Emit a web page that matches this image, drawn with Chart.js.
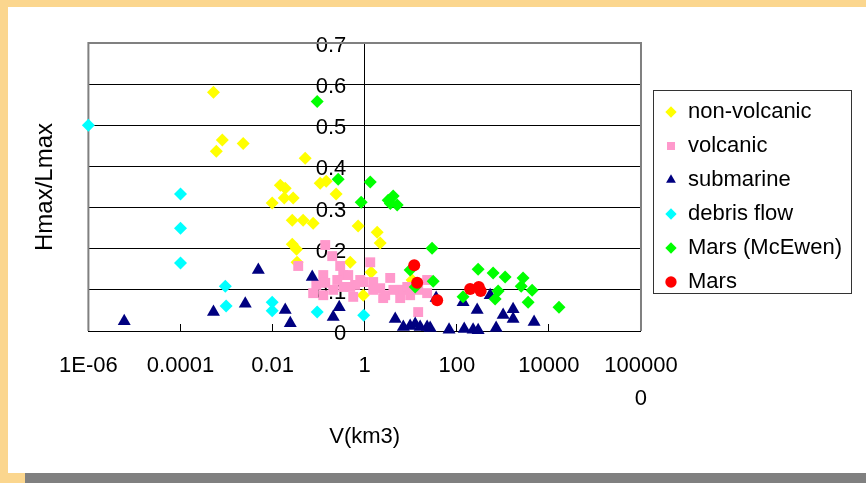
<!DOCTYPE html>
<html>
<head>
<meta charset="utf-8">
<script src="https://cdn.jsdelivr.net/npm/chart.js@4.4.1/dist/chart.umd.min.js"></script>
<style>
  body { margin: 0; width: 866px; height: 483px; overflow: hidden; position: relative; background: #fbd68e; }
  .panel { position: absolute; left: 8px; top: 7px; right: 0; bottom: 10px; background: #fff; }
  .bar { position: absolute; left: 25px; right: 0; bottom: 0; height: 10px; background: #808080; }
  canvas { position: absolute; left: 0; top: 0; }
</style>
</head>
<body>
<div class="panel"></div>
<div class="bar"></div>
<canvas id="myChart" width="866" height="483"></canvas>
<script>
// [V (km3), Hmax/Lmax]
var nonVolcanic = [[5.2e-4, 0.58], [6.0e-4, 0.437], [8.1e-4, 0.464], [2.3e-3, 0.456], [0.051, 0.42],
    [0.0147, 0.354], [0.0188, 0.347], [0.0179, 0.323], [0.028, 0.323], [0.0098, 0.311],
    [0.108, 0.359], [0.146, 0.364], [0.24, 0.333], [0.0267, 0.269], [0.046, 0.269],
    [0.076, 0.262], [0.0267, 0.211], [0.033, 0.199], [0.034, 0.167], [0.72, 0.255],
    [1.87, 0.24], [2.17, 0.214], [0.485, 0.167], [1.38, 0.143], [10.7, 0.124], [0.93, 0.087]];
var volcanic = [[0.036, 0.158], [0.139, 0.209], [0.197, 0.182], [0.126, 0.136], [0.089, 0.112],
    [0.076, 0.092], [0.139, 0.117], [0.207, 0.1], [0.294, 0.158], [0.342, 0.136],
    [0.439, 0.136], [0.342, 0.107], [0.564, 0.083], [0.485, 0.107], [0.8, 0.124],
    [0.93, 0.119], [1.32, 0.167], [1.53, 0.119], [1.53, 0.1], [2.17, 0.104],
    [2.52, 0.08], [2.79, 0.087], [3.58, 0.129], [5.9, 0.1], [5.9, 0.08],
    [6.9, 0.1], [8.4, 0.107], [9.7, 0.087], [14.5, 0.1], [14.5, 0.046],
    [22.7, 0.124], [22.7, 0.092], [0.126, 0.087], [0.254, 0.124], [0.62, 0.112], [4.2, 0.1]];
var submarine = [[6.0e-6, 0.024], [5.2e-4, 0.046], [2.55e-3, 0.066], [4.9e-3, 0.148], [0.0188, 0.051],
    [0.0242, 0.019], [0.0726, 0.131], [0.207, 0.034], [0.28, 0.058], [4.6, 0.029],
    [6.9, 0.01], [9.7, 0.012], [12.5, 0.017], [16, 0.01], [22.7, 0.01],
    [26.4, 0.007], [35.6, 0.08], [68, 0.003], [137, 0.07], [145, 0.005],
    [226, 0.003], [277, 0.051], [291, 0.002], [530, 0.087], [715, 0.007],
    [1015, 0.039], [1670, 0.053], [1670, 0.029], [4770, 0.022]];
var debrisFlow = [[1e-6, 0.5], [1e-4, 0.333], [1e-4, 0.25], [1e-4, 0.165], [9.4e-4, 0.109],
    [9.8e-4, 0.061], [0.0098, 0.07], [0.0098, 0.049], [0.093, 0.046], [0.95, 0.038]];
var marsMcEwen = [[0.093, 0.558], [0.266, 0.369], [1.32, 0.362], [0.84, 0.313], [3.24, 0.318],
    [4.16, 0.328], [5.08, 0.306], [3.6, 0.31], [29, 0.201], [9.7, 0.148],
    [12.5, 0.107], [30.7, 0.121], [137, 0.083], [291, 0.15], [615, 0.141],
    [1120, 0.131], [790, 0.097], [680, 0.078], [2750, 0.129], [2500, 0.109],
    [4320, 0.099], [3540, 0.07], [16600, 0.058]];
var mars = [[11.9, 0.16], [13.8, 0.117], [37.5, 0.075], [195, 0.102], [300, 0.107], [330, 0.097]];

var xTicks = [1e-6, 1e-4, 1e-2, 1, 100, 1e4, 1e6];
var xTickLabels = ['1E-06', '0.0001', '0.01', '1', '100', '10000', ['100000', '0']];
var yTicks = [0, 0.1, 0.2, 0.3, 0.4, 0.5, 0.6, 0.7];
var yTickLabels = ['0', '0.1', '0.2', '0.3', '0.4', '0.5', '0.6', '0.7'];

var series = [
    { label: 'non-volcanic', data: nonVolcanic, color: '#ffff00', style: 'rectRot', radius: 6.5 },
    { label: 'volcanic', data: volcanic, color: '#ff99cc', style: 'rect', radius: 7 },
    { label: 'submarine', data: submarine, color: '#000080', style: 'triangle', radius: 7.5 },
    { label: 'debris flow', data: debrisFlow, color: '#00ffff', style: 'rectRot', radius: 6.5 },
    { label: 'Mars (McEwen)', data: marsMcEwen, color: '#00ff00', style: 'rectRot', radius: 6.5 },
    { label: 'Mars', data: mars, color: '#ff0000', style: 'circle', radius: 6 }
];

// gray plot frame and the box round the legend
var frames = {
    id: 'frames',
    beforeDatasetsDraw: function (chart) {
        var ctx = chart.ctx;
        var a = chart.chartArea;
        ctx.save();
        ctx.strokeStyle = '#808080';
        ctx.lineWidth = 2;
        ctx.beginPath();
        ctx.moveTo(a.left, a.bottom);
        ctx.lineTo(a.left, a.top);
        ctx.lineTo(a.right, a.top);
        ctx.lineTo(a.right, a.bottom);
        ctx.stroke();

        var legend = chart.legend;
        var hb = legend.legendHitBoxes;
        var top = hb[0].top - 11;
        var bottom = hb[hb.length - 1].top + hb[hb.length - 1].height;
        ctx.strokeStyle = '#333';
        ctx.lineWidth = 1;
        ctx.strokeRect(Math.round(legend.left) + 0.5, Math.round(top) + 0.5,
            Math.round(legend.width) - 1, Math.round(bottom - top));
        ctx.restore();
    }
};

Chart.defaults.font.family = "'Liberation Sans', Arial, sans-serif";
Chart.defaults.color = '#000';

new Chart(document.getElementById('myChart'), {
    type: 'scatter',
    data: {
        datasets: series.map(function (s, i) {
            return {
                label: s.label,
                data: s.data.map(function (p) { return { x: p[0], y: p[1] }; }),
                backgroundColor: s.color,
                borderColor: s.color,
                borderWidth: 0,
                pointStyle: s.style,
                pointRadius: s.radius,
                order: series.length - i,
                clip: false,
                xAxisID: 'x',
                yAxisID: 'y'
            };
        })
    },
    options: {
        responsive: false,
        animation: false,
        layout: { padding: { left: 20, top: 43, right: 14, bottom: 32.6 } },
        scales: {
            x: {
                type: 'logarithmic',
                position: 'bottom',
                min: 1e-6,
                max: 1e6,
                afterBuildTicks: function (scale) {
                    scale.ticks = xTicks.map(function (v) { return { value: v }; });
                },
                ticks: {
                    autoSkip: false,
                    maxRotation: 0,
                    padding: 25,
                    font: { size: 22, lineHeight: 1.5 },
                    callback: function (v, i) { return xTickLabels[i]; }
                },
                grid: { drawOnChartArea: false, tickLength: -7, tickColor: '#000' },
                border: { color: '#000', width: 1 },
                title: { display: true, text: 'V(km3)', font: { size: 22 }, padding: { top: -16, bottom: 0 } }
            },
            y: {
                type: 'linear',
                position: { x: 1 },
                min: 0,
                max: 0.7,
                afterBuildTicks: function (scale) {
                    scale.ticks = yTicks.map(function (v) { return { value: v }; });
                },
                ticks: {
                    autoSkip: false,
                    labelOffset: 3,
                    font: { size: 22 },
                    // labels of a crossing axis sit flush on it; keep a gap like the original
                    callback: function (v, i) { return yTickLabels[i] + '\u00a0\u00a0\u00a0'; }
                },
                grid: { color: '#000', tickLength: -7, tickColor: '#000' },
                border: { color: '#000', width: 1 }
            },
            yTitle: {
                type: 'linear',
                position: 'left',
                ticks: { display: false },
                grid: { display: false, drawTicks: false },
                border: { display: false },
                title: { display: true, text: 'Hmax/Lmax', font: { size: 24 }, padding: { top: 10.6, bottom: 29 } }
            },
            legendGap: {
                type: 'linear',
                position: 'right',
                ticks: { display: false },
                grid: { display: false, tickLength: 12 },
                border: { display: false }
            }
        },
        plugins: {
            tooltip: { enabled: false },
            legend: {
                position: 'right',
                fullSize: false,
                align: 'center',
                maxWidth: 240,
                title: { display: true, text: '', font: { size: 10, lineHeight: 1 }, padding: { top: 5, bottom: 5 } },
                labels: {
                    usePointStyle: true,
                    boxWidth: 12,
                    boxHeight: 8,
                    padding: 12,
                    color: '#000',
                    font: { size: 22 },
                    sort: function (a, b) { return a.datasetIndex - b.datasetIndex; }
                }
            }
        }
    },
    plugins: [frames]
});
</script>
</body>
</html>
